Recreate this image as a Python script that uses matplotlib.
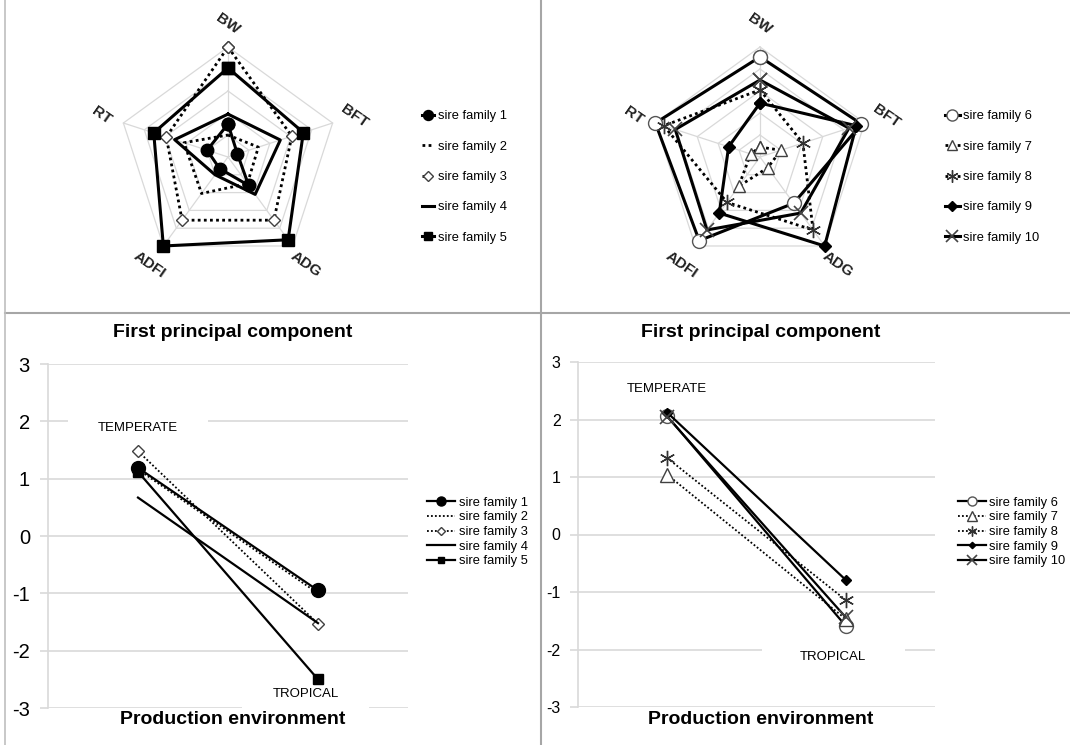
import numpy as np
import matplotlib
matplotlib.use("Agg")
import matplotlib.pyplot as plt
from matplotlib.lines import Line2D

plt.rcParams['font.family'] = ['Liberation Sans', 'DejaVu Sans']
plt.rcParams['axes.unicode_minus'] = False

# radar axes, clockwise from the top
traits = ["BW", "BFT", "ADG", "ADFI", "RT"]

# standardised trait values per sire family (outer ring = 1)
radar_fam1 = [0.30, 0.09, 0.32, 0.13, 0.20]
radar_fam2 = [0.20, 0.29, 0.30, 0.41, 0.42]
radar_fam3 = [1.00, 0.61, 0.71, 0.71, 0.59]
radar_fam4 = [0.39, 0.50, 0.42, 0.20, 0.51]
radar_fam5 = [0.81, 0.72, 0.93, 1.00, 0.71]
radar_fam6 = [0.91, 0.97, 0.52, 0.94, 1.00]
radar_fam7 = [0.09, 0.20, 0.12, 0.33, 0.09]
radar_fam8 = [0.61, 0.41, 0.82, 0.51, 0.92]
radar_fam9 = [0.49, 0.92, 1.00, 0.63, 0.30]
radar_fam10 = [0.70, 0.85, 0.63, 0.82, 0.81]

# first principal component score: temperate, tropical
environments = ["TEMPERATE", "TROPICAL"]
pc1_fam1 = [1.19, -0.95]
pc1_fam2 = [1.16, -1.00]
pc1_fam3 = [1.48, -1.53]
pc1_fam4 = [0.67, -1.52]
pc1_fam5 = [1.12, -2.50]
pc1_fam6 = [2.06, -1.59]
pc1_fam7 = [1.04, -1.47]
pc1_fam8 = [1.33, -1.14]
pc1_fam9 = [2.12, -0.79]
pc1_fam10 = [2.05, -1.44]

labels_a = ["sire family %d" % i for i in range(1, 6)]
labels_b = ["sire family %d" % i for i in range(6, 11)]

W, H = 1070, 745
GRID = "#d9d9d9"
DOT = (0, (1, 1.2))


def px_rect(x0, y0, x1, y1):
    return [x0 / W, 1 - y1 / H, (x1 - x0) / W, (y1 - y0) / H]


def style(kind, marker=None, ms=7, face="black", edge="black", lw=2.2, mew=1.0):
    st = dict(color="black", lw=lw, linestyle="-" if kind == "solid" else DOT,
              zorder=3)
    if marker:
        st.update(marker=marker, markersize=ms, markerfacecolor=face,
                  markeredgecolor=edge, markeredgewidth=mew)
    return st


radar_styles_a = [
    style("solid", "o", 9),
    style("dot", lw=2.0),
    style("dot", "D", 6, "white", "#404040", lw=2.0),
    style("solid"),
    style("solid", "s", 8),
]
radar_styles_b = [
    style("solid", "o", 10, "white", "#555555"),
    style("dot", "^", 9, "white", "#404040", lw=2.0),
    style("dot", (6, 2, 0), 11, "black", "#333333", lw=2.0),
    style("solid", "D", 6),
    style("solid", "x", 10, "black", "#444444", mew=1.2),
]
line_styles_a = [
    style("solid", "o", 10, lw=1.6),
    style("dot", lw=1.3),
    style("dot", "D", 6, "white", "#404040", lw=1.3),
    style("solid", lw=1.6),
    style("solid", "s", 7, lw=1.6),
]
line_styles_b = [
    style("solid", "o", 10, "white", "#555555", lw=1.6),
    style("dot", "^", 10, "white", "#404040", lw=1.3),
    style("dot", (6, 2, 0), 11, "black", "#333333", lw=1.3),
    style("solid", "D", 5, lw=1.6),
    style("solid", "x", 10, "black", "#444444", lw=1.6, mew=1.2),
]


def draw_radar(ax, series, styles, labels):
    ang = np.deg2rad(90 - 72 * np.arange(5))
    ang_c = np.r_[ang, ang[0]]
    for k in range(1, 6):
        r = k / 5
        ax.plot(r * np.cos(ang_c), r * np.sin(ang_c), color=GRID, lw=0.9, zorder=1)
    for a in ang:
        ax.plot([0, np.cos(a)], [0, np.sin(a)], color=GRID, lw=0.9, zorder=1)
    for vals, st, lab in zip(series, styles, labels):
        v = np.r_[vals, vals[0]]
        ax.plot(v * np.cos(ang_c), v * np.sin(ang_c), label=lab, **st)
    for a, t in zip(ang, traits):
        ax.text(1.21 * np.cos(a), 1.21 * np.sin(a), t, rotation=-35, fontsize=11,
                fontweight="bold", color="#222222", ha="center", va="center")
    ax.set_xlim(-1.3, 1.3)
    ax.set_ylim(-1.3, 1.3)
    ax.set_aspect("equal")
    ax.axis("off")


def draw_pc(ax, series, styles, labels, tick_size, tick_pad):
    x = np.arange(len(environments))
    for vals, st, lab in zip(series, styles, labels):
        ax.plot(x, vals, label=lab, **st)
    ax.set_xlim(-0.5, 1.5)
    ax.set_ylim(-3, 3)
    ax.set_yticks(range(-3, 4))
    ax.set_xticks([])
    ax.yaxis.grid(True, color=GRID, lw=1.2)
    ax.set_axisbelow(True)
    for s in ["top", "right", "bottom"]:
        ax.spines[s].set_visible(False)
    ax.spines["left"].set_color(GRID)
    ax.spines["left"].set_linewidth(1.2)
    ax.tick_params(axis="y", length=6, color=GRID, width=1.2,
                   labelsize=tick_size, pad=tick_pad)


fig = plt.figure(figsize=(W / 100, H / 100), dpi=100)

# top row: radar charts
ax1 = fig.add_axes(px_rect(85, 14, 371, 300))
draw_radar(ax1, [radar_fam1, radar_fam2, radar_fam3, radar_fam4, radar_fam5],
           radar_styles_a, labels_a)
ax2 = fig.add_axes(px_rect(617, 14, 903, 300))
draw_radar(ax2, [radar_fam6, radar_fam7, radar_fam8, radar_fam9, radar_fam10],
           radar_styles_b, labels_b)

leg_kw = dict(loc="center left", frameon=False, fontsize=9.3, borderpad=0,
              borderaxespad=0, bbox_transform=fig.transFigure, numpoints=1)
ax1.legend(bbox_to_anchor=(422 / W, 1 - 177 / H), handlelength=0.95,
           handletextpad=0.25, labelspacing=1.42, markerscale=0.8, **leg_kw)
ax2.legend(bbox_to_anchor=(945 / W, 1 - 177 / H), handlelength=1.15,
           handletextpad=0.25, labelspacing=1.42, markerscale=0.8, **leg_kw)

# bottom row: first principal component by environment
ax3 = fig.add_axes(px_rect(48, 364, 408, 708))
draw_pc(ax3, [pc1_fam1, pc1_fam2, pc1_fam3, pc1_fam4, pc1_fam5],
        line_styles_a, labels_a, 14.5, 7)
ax4 = fig.add_axes(px_rect(578, 362, 935, 707))
draw_pc(ax4, [pc1_fam6, pc1_fam7, pc1_fam8, pc1_fam9, pc1_fam10],
        line_styles_b, labels_b, 11.5, 6.5)

ax3.legend(bbox_to_anchor=(427 / W, 1 - 532 / H), handlelength=2.2,
           handletextpad=0.3, labelspacing=0.2, markerscale=0.65, **leg_kw)
ax4.legend(bbox_to_anchor=(958 / W, 1 - 532 / H), handlelength=2.2,
           handletextpad=0.2, labelspacing=0.2, markerscale=0.65, **leg_kw)

box = dict(facecolor="white", edgecolor="none", boxstyle="square,pad=2.3")
ax3.text(0, 1.88, environments[0], fontsize=9.5, ha="center", va="center",
         bbox=box, zorder=2)
ax3.text(0.93, -2.76, environments[1], fontsize=9.5, ha="center", va="center",
         bbox=box, zorder=2)
ax4.text(0, 2.53, environments[0], fontsize=9.5, ha="center", va="center",
         bbox=dict(facecolor="white", edgecolor="none", boxstyle="square,pad=0.5"),
         zorder=2)
ax4.text(0.93, -2.13, environments[1], fontsize=9.5, ha="center", va="center",
         bbox=dict(facecolor="white", edgecolor="none", boxstyle="square,pad=2.9"),
         zorder=2)

for cx in (233, 761):
    fig.text(cx / W, 1 - 333 / H, "First principal component", fontsize=14,
             fontweight="bold", ha="center", va="center")
    fig.text(cx / W, 1 - 720 / H, "Production environment", fontsize=14,
             fontweight="bold", ha="center", va="center")

# panel frame lines
fig.add_artist(Line2D([5 / W, 1], [1 - 313 / H] * 2, color="#a6a6a6", lw=1.5,
                      transform=fig.transFigure))
fig.add_artist(Line2D([541 / W] * 2, [0, 1], color="#a6a6a6", lw=1.5,
                      transform=fig.transFigure))
fig.add_artist(Line2D([5 / W] * 2, [0, 1], color="#bfbfbf", lw=1.2,
                      transform=fig.transFigure))

fig.savefig("out.png", dpi=100)
